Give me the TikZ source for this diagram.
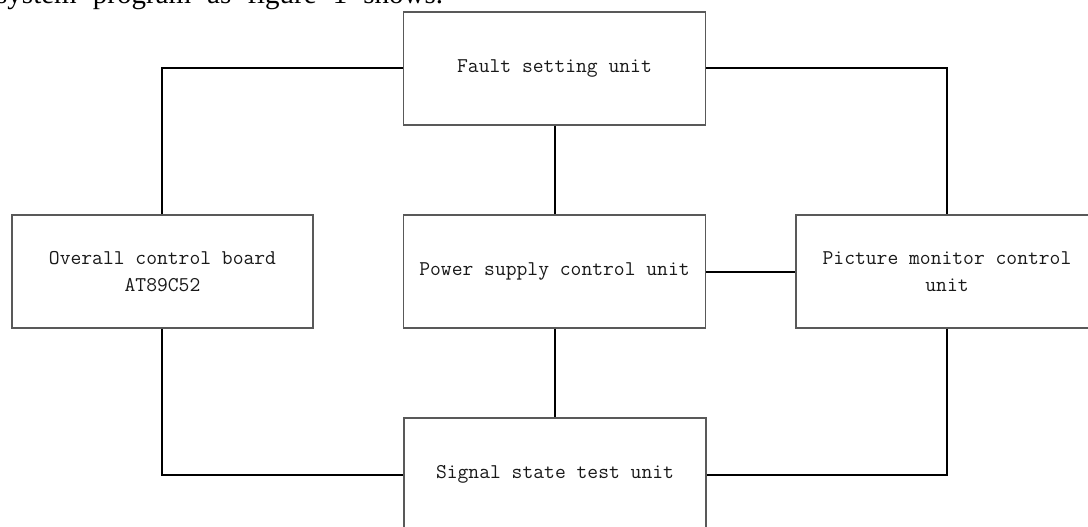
\documentclass[tikz,border=0pt]{standalone}
\usepackage{fontspec}
\setmainfont{Liberation Serif}
\setmonofont{Latin Modern Mono}
\begin{document}
\begin{tikzpicture}[x=1pt,y=-1pt,
  unitbox/.style={draw=black!65,line width=1.3pt,minimum width=302pt,minimum height=113pt,
    inner sep=0pt,align=center,text=black!90,font=\ttfamily\fontsize{21}{27}\selectfont},
  wire/.style={draw=black,line width=2pt}]
\useasboundingbox (0,0) rectangle (1088,527);
\clip (0,0) rectangle (1088,527);
\node[anchor=base west,inner sep=0pt,font=\fontsize{29}{32}\selectfont] (intro) at (-4,4)
  {\makebox[447pt][s]{system program as figure 1 shows.}};
\node[unitbox] (fault) at (554.5,68.5) {Fault setting unit};
\node[unitbox,minimum width=301pt] (overall) at (162.5,271.5) {Overall control board\\AT89C52};
\node[unitbox] (power) at (554.5,271.5) {Power supply control unit};
\node[unitbox] (picture) at (947,271.5) {Picture monitor control\\unit};
\node[unitbox] (signal) at (555,474.5) {Signal state test unit};
\coordinate (tl) at (162,68.5);
\coordinate (tr) at (947,68.5);
\coordinate (bl) at (162,474.5);
\coordinate (br) at (947,474.5);
\draw[wire] (fault.west) -- (tl) -- (overall.north -| tl);
\draw[wire] (fault.east) -- (tr) -- (picture.north -| tr);
\draw[wire] (fault.south) -- (power.north);
\draw[wire] (power.east) -- (picture.west);
\draw[wire] (power.south) -- (signal.north -| power.south);
\draw[wire] (overall.south -| bl) -- (bl) -- (signal.west);
\draw[wire] (picture.south -| br) -- (br) -- (signal.east);
\end{tikzpicture}
\end{document}
